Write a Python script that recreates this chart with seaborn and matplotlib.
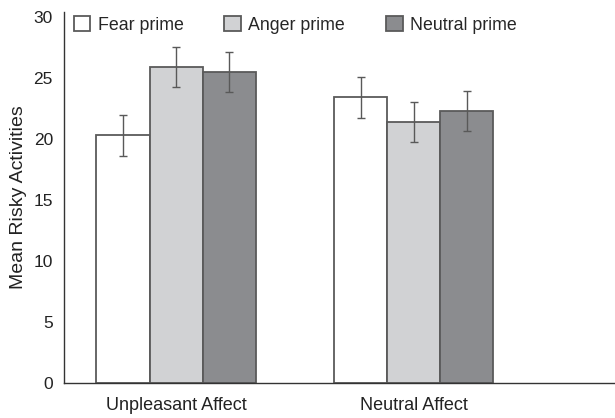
import pandas as pd
import matplotlib
matplotlib.use('Agg')
import matplotlib.pyplot as plt
import seaborn as sns

# Values
affect = ['Unpleasant Affect', 'Neutral Affect']
primes = ['Fear prime', 'Anger prime', 'Neutral prime']
fear_mean = [20.3, 23.4]
anger_mean = [25.9, 21.4]
neutral_mean = [25.5, 22.3]
fear_err = [1.7, 1.7]
anger_err = [1.65, 1.65]
neutral_err = [1.65, 1.65]
yticks = [0, 5, 10, 15, 20, 25, 30]

df = pd.DataFrame({
    'Affect': affect * 3,
    'Prime': [p for p in primes for _ in affect],
    'Mean': fear_mean + anger_mean + neutral_mean,
    'Err': fear_err + anger_err + neutral_err,
})

sns.set_style('white')
plt.rcParams['font.family'] = ['Liberation Sans', 'DejaVu Sans']

fig = plt.figure(figsize=(6.15, 4.18), dpi=100)
ax = fig.add_axes([64 / 615, 1 - 383 / 418, 557 / 615, (383 - 12) / 418])

palette = {'Fear prime': '#ffffff', 'Anger prime': '#d1d2d4', 'Neutral prime': '#8b8c8f'}
sns.barplot(data=df, x='Affect', y='Mean', hue='Prime', palette=palette,
            width=0.67, errorbar=None, edgecolor='#5a5a5a', linewidth=1.3,
            saturation=1, ax=ax)

# Add error bars on each bar
for container, prime in zip(ax.containers, primes):
    sub = df[df['Prime'] == prime]
    for bar, (_, row) in zip(container, sub.iterrows()):
        xc = bar.get_x() + bar.get_width() / 2
        ax.errorbar(x=xc, y=row['Mean'], yerr=row['Err'], fmt='none',
                    ecolor='#595959', elinewidth=1.0, capsize=3, capthick=1.0)

ax.set_ylim(0, 30.4)
ax.set_xlim(-0.4716, 1.873)
ax.set_yticks(yticks)
ax.set_xlabel('')
ax.set_ylabel('Mean Risky Activities', fontsize=14, color='#222222')
ax.yaxis.set_label_coords(-0.066, 0.5)
ax.tick_params(axis='both', length=0, colors='#222222')
ax.tick_params(axis='x', pad=10, labelsize=13)
ax.tick_params(axis='y', pad=8, labelsize=12.5)

for side in ['top', 'right']:
    ax.spines[side].set_visible(False)
for side in ['left', 'bottom']:
    ax.spines[side].set_color('#333333')
    ax.spines[side].set_linewidth(1.0)

leg = ax.legend(ncol=3, loc='upper left', bbox_to_anchor=(-0.002, 1.018), frameon=False,
                fontsize=12.8, handlelength=0.95, handleheight=0.95, handletextpad=0.4,
                columnspacing=2.3, borderaxespad=0.2)
leg.set_title(None)

fig.savefig('out.png', dpi=100)
